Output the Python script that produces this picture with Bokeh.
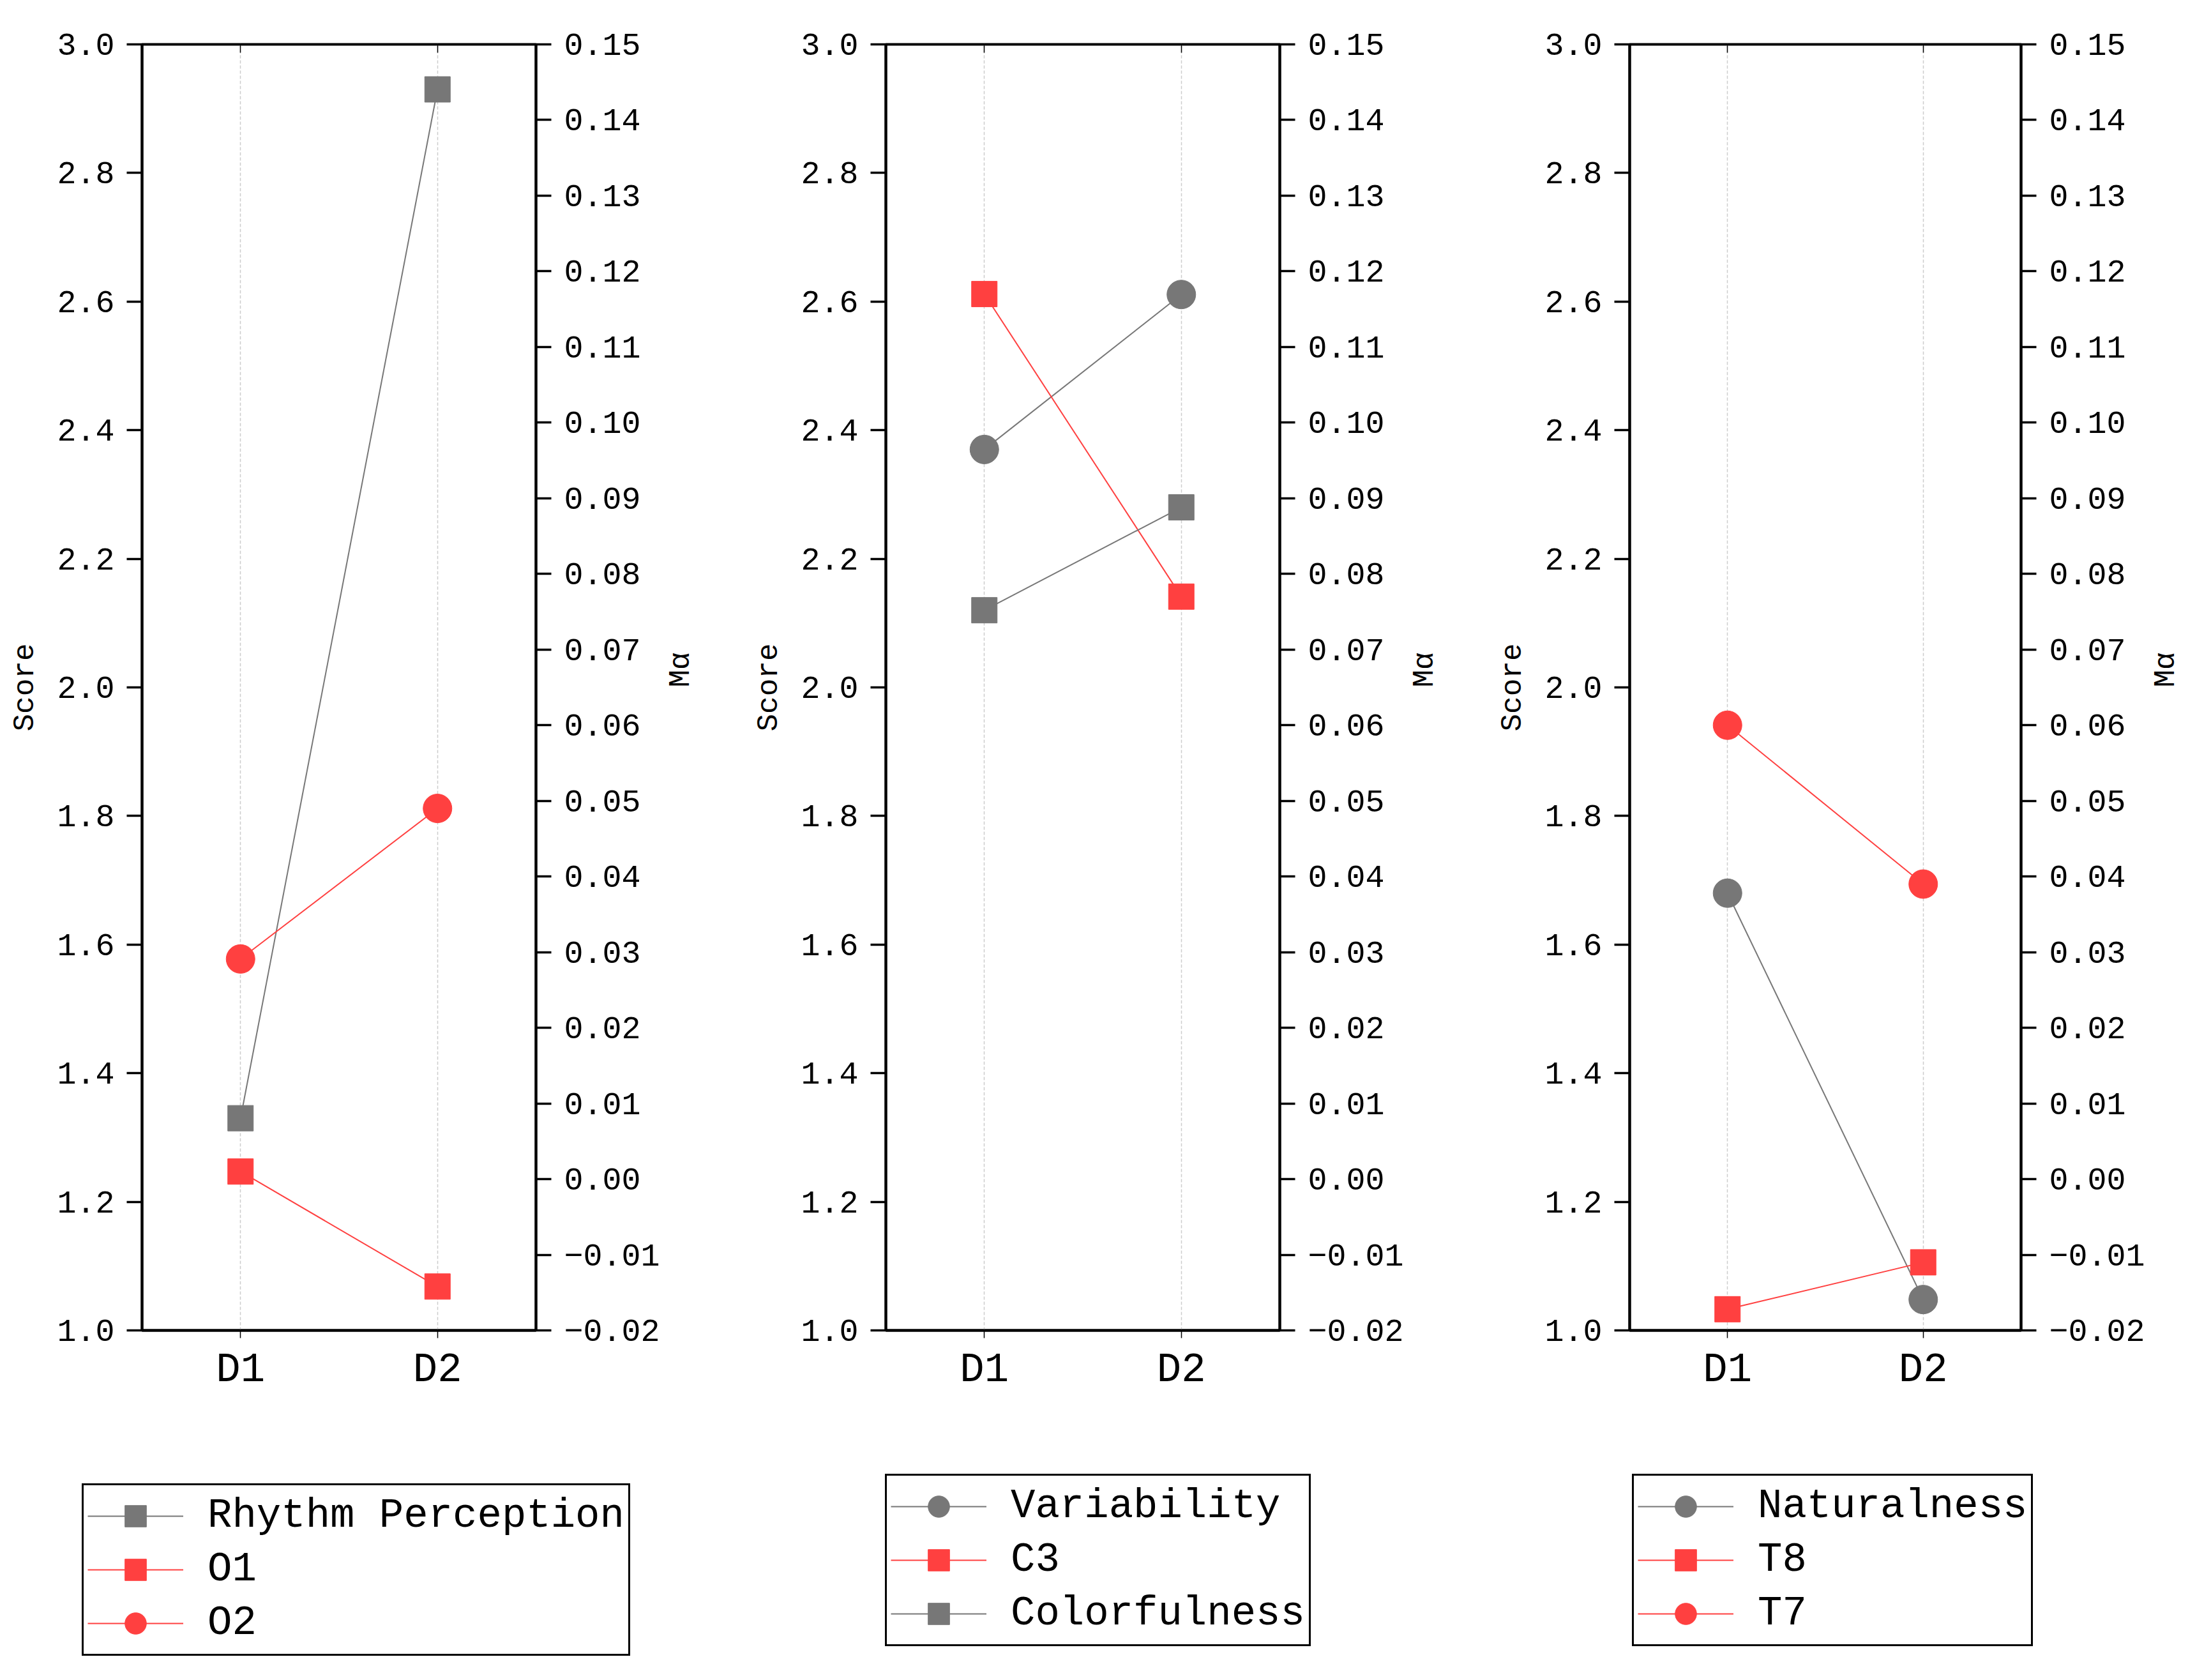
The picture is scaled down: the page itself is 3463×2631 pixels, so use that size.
import math

from bokeh.plotting import figure
from bokeh.layouts import row, column
from bokeh.models import (Range1d, LinearAxis, CategoricalAxis, FixedTicker,
                          NumeralTickFormatter, CustomJSTickFormatter, Grid,
                          Legend, LegendItem)
from bokeh.embed import file_html
from bokeh.resources import INLINE

# ---- data ----
days = ["D1", "D2"]

# panel 1
rhythm_perception = [1.33, 2.93]      # Score
o1 = [0.001, -0.0142]                 # M alpha
o2 = [0.0291, 0.049]                  # M alpha

# panel 2
variability = [2.37, 2.611]           # Score
c3 = [0.117, 0.077]                   # M alpha
colorfulness = [2.12, 2.28]           # Score

# panel 3
naturalness = [1.68, 1.048]           # Score
t8 = [-0.0172, -0.011]                # M alpha
t7 = [0.060, 0.039]                   # M alpha

score_ticks = [1.0, 1.2, 1.4, 1.6, 1.8, 2.0, 2.2, 2.4, 2.6, 2.8, 3.0]
ma_ticks = [-0.02, -0.01, 0.0, 0.01, 0.02, 0.03, 0.04, 0.05, 0.06, 0.07,
            0.08, 0.09, 0.10, 0.11, 0.12, 0.13, 0.14, 0.15]

GRAY = "#777777"
RED = "#ff4040"
FONT = "Liberation Mono"

# series: (label, values, axis, marker, colour)
panels = [
    [("Rhythm Perception", rhythm_perception, "score", "square", GRAY),
     ("O1", o1, "ma", "square", RED),
     ("O2", o2, "ma", "circle", RED)],
    [("Variability", variability, "score", "circle", GRAY),
     ("C3", c3, "ma", "square", RED),
     ("Colorfulness", colorfulness, "score", "square", GRAY)],
    [("Naturalness", naturalness, "score", "circle", GRAY),
     ("T8", t8, "ma", "square", RED),
     ("T7", t7, "ma", "circle", RED)],
]
widths = [1165, 1165, 1117]
legend_locs = [(128, 7), (1386, 22), (2556, 22)]

PLOT_H = 2260
LEG_H = 340


def style_axis(ax):
    ax.axis_line_width = 4
    ax.axis_line_color = "black"
    ax.major_tick_line_width = 3.5
    ax.major_tick_line_color = "black"
    ax.minor_tick_line_color = None
    ax.major_label_text_font = FONT
    ax.major_label_text_font_size = "50px"
    ax.major_label_text_color = "black"
    ax.axis_label_text_font = FONT
    ax.axis_label_text_font_size = "46px"
    ax.axis_label_text_font_style = "normal"
    ax.axis_label_text_color = "black"


def make_panel(series, width):
    p = figure(width=width, height=PLOT_H, x_range=days,
               y_range=Range1d(1.0, 3.0),
               output_backend="svg", toolbar_location=None,
               min_border_left=222, min_border_right=width - 222 - 617,
               min_border_top=69, min_border_bottom=PLOT_H - 69 - 2014)
    p.extra_y_ranges = {"ma": Range1d(-0.02, 0.15)}
    p.outline_line_color = "black"
    p.outline_line_width = 4

    # left axis (Score)
    ly = p.yaxis[0]
    ly.ticker = FixedTicker(ticks=score_ticks)
    ly.formatter = NumeralTickFormatter(format="0.0")
    ly.axis_label = "Score"
    ly.major_tick_in = 0
    ly.major_tick_out = 24
    ly.major_label_standoff = 19
    ly.axis_label_standoff = 20
    style_axis(ly)

    # bottom axis
    bx = p.xaxis[0]
    style_axis(bx)
    bx.major_tick_line_width = 1.5
    bx.major_tick_in = 0
    bx.major_tick_out = 12
    bx.major_label_standoff = 14
    bx.major_label_text_font_size = "64px"

    # right axis (M alpha)
    ry = LinearAxis(y_range_name="ma", axis_label="M\u03b1",
                    ticker=FixedTicker(ticks=ma_ticks),
                    formatter=CustomJSTickFormatter(code="""
                        const s = Math.abs(tick).toFixed(2);
                        return (tick < -1e-9 ? '\u2212' : '') + s;
                    """))
    style_axis(ry)
    ry.major_tick_in = 0
    ry.major_tick_out = 24
    ry.major_label_standoff = 20
    ry.axis_label_standoff = 30
    ry.axis_label_orientation = math.pi / 2
    p.add_layout(ry, "right")

    # top ticks (no labels)
    tx = CategoricalAxis(major_label_overrides={"D1": "", "D2": ""})
    tx.axis_line_color = None
    tx.major_tick_in = 13
    tx.major_tick_out = 0
    tx.major_tick_line_width = 1.5
    tx.major_tick_line_color = "black"
    tx.major_label_text_font_size = "1px"
    tx.major_label_standoff = 0
    p.add_layout(tx, "above")

    # grids: vertical from x, horizontal from the right axis
    p.xgrid.grid_line_color = "#cccccc"
    p.xgrid.grid_line_dash = "5 3"
    p.xgrid.grid_line_width = 1.5
    p.ygrid.visible = False
    p.add_layout(Grid(dimension=1, axis=ry, grid_line_color="#cccccc",
                      grid_line_dash="5 3", grid_line_width=1.5))

    for label, vals, axis, marker, color in series:
        kw = {"y_range_name": "ma"} if axis == "ma" else {}
        p.line(days, vals, line_color=color, line_width=2, **kw)
        size = 45 if marker == "circle" else 40
        p.scatter(days, vals, marker=marker, size=size,
                  fill_color=color, line_color=color, **kw)
    return p


# one wide strip under the three panels that only carries the legends;
# its renderers repeat the series but sit outside the strip's view
lf = figure(width=sum(widths), height=LEG_H, x_range=days,
            y_range=Range1d(100, 101), output_backend="svg",
            toolbar_location=None, min_border=0,
            x_axis_location=None, y_axis_location=None)
lf.grid.visible = False
lf.outline_line_color = None

for series, loc in zip(panels, legend_locs):
    items = []
    for label, vals, axis, marker, color in series:
        ln = lf.line(days, vals, line_color=color, line_width=2)
        size = 45 if marker == "circle" else 40
        sc = lf.scatter(days, vals, marker=marker, size=size,
                        fill_color=color, line_color=color)
        items.append(LegendItem(label=label, renderers=[ln, sc]))
    leg = Legend(items=items, location=loc, orientation="vertical")
    leg.label_text_font = FONT
    leg.label_text_font_size = "64px"
    leg.label_text_color = "black"
    leg.glyph_width = 150
    leg.glyph_height = 84
    leg.label_height = 84
    leg.label_standoff = 38
    leg.spacing = 0
    leg.padding = 6
    leg.margin = 0
    leg.border_line_color = "black"
    leg.border_line_alpha = 1.0
    leg.border_line_width = 3
    leg.background_fill_color = "white"
    leg.background_fill_alpha = 1.0
    lf.add_layout(leg)

figs = [make_panel(s, w) for s, w in zip(panels, widths)]
layout = column(row(*figs), lf)

open("out.html", "w").write(file_html(layout, INLINE))
